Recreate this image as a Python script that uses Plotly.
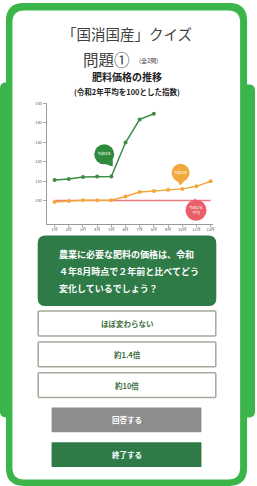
import plotly.graph_objects as go

# ---------------- data ----------------
MONTHS = ["1月", "2月", "3月", "4月", "5月", "6月", "7月", "8月", "9月", "10月", "11月", "12月"]
R4_PRICE = [110.6, 111.1, 112.1, 112.4, 112.4, 129.9, 141.8, 144.7]           # 令和4年 (green)
R3_PRICE = [99.3, 99.7, 100.2, 100.2, 100.2, 102.1, 104.4, 104.9, 105.5, 106.0, 107.3, 109.9]  # 令和3年 (orange)
R2_AVG = [100, 100, 100, 100, 100, 100, 100, 100, 100, 100, 100, 100]       # 令和2年平均
Y_TICKS = [100, 110, 120, 130, 140, 150]

ANSWERS = ["ほぼ変わらない", "約1.4倍", "約10倍"]
QUESTION = ["農業に必要な肥料の価格は、令和", "４年8月時点で２年前と比べてどう", "変化しているでしょう？"]

W, H = 257, 486
FONT = "Noto Sans CJK JP"
GREEN = "#3bb54a"
DARK_GREEN = "#2f7b47"


def X(px):
    return px / W


def Y(py):
    return 1 - py / H


def rrect(x0, y0, x1, y1, r):
    a, b, c, d = X(x0), Y(y0), X(x1), Y(y1)
    rx, ry = r / W, r / H
    return (f"M{a + rx},{b} L{c - rx},{b} Q{c},{b} {c},{b - ry} "
            f"L{c},{d + ry} Q{c},{d} {c - rx},{d} L{a + rx},{d} "
            f"Q{a},{d} {a},{d + ry} L{a},{b - ry} Q{a},{b} {a + rx},{b} Z")


shapes = []


def add_rr(x0, y0, x1, y1, r, fill, line=None, lw=0):
    shapes.append(dict(type="path", path=rrect(x0, y0, x1, y1, r), xref="paper", yref="paper",
                       fillcolor=fill, line=dict(color=line or fill, width=lw), layer="below"))


# frame
add_rr(0, 80, 16, 417, 6, GREEN)
add_rr(240, 82, 257, 417, 6, GREEN)
add_rr(6, 0, 249, 486, 18, GREEN)
add_rr(12.5, 7.5, 242, 479.5, 12, "white")
# question box
add_rr(38, 234, 218, 305, 8, DARK_GREEN)
# answer boxes
ans_y = [(310, 335), (341, 366), (372, 397)]
for (a, b) in ans_y:
    add_rr(38.5, a, 217.5, b, 1, "white", "#a3ab9c", 1.5)
# buttons
add_rr(52, 407, 203, 432, 0.5, "#8d8d8d")
add_rr(52, 442, 203, 467, 0.5, DARK_GREEN)

ann = []


def text(px, py, s, size, color="#333", anchor="center", bold=False):
    ann.append(dict(x=X(px), y=Y(py), xref="paper", yref="paper", text=f"<b>{s}</b>" if bold else s,
                    showarrow=False, xanchor=anchor, yanchor="middle",
                    font=dict(family=FONT, size=size, color=color)))


text(128, 31, "「国消国産」クイズ", 14.5, "#404040")
text(107, 56, "問題①", 15.5, "#404040")
text(150, 57.5, "(全2問)", 6, "#404040")
text(128, 74, "肥料価格の推移", 10, "#222", bold=True)
text(128, 89, "(令和2年平均を100とした指数)", 7.5, "#222", bold=True)
for i, line in enumerate(QUESTION):
    text(57, 253 + 17 * i, line, 9, "white", "left", bold=True)
for s, (a, b) in zip(ANSWERS, ans_y):
    text(128, (a + b) / 2, s, 7.5, "#3e6e3e", bold=True)
text(128, 419.5, "回答する", 7.5, "white", bold=True)
text(128, 454.5, "終了する", 7.5, "white", bold=True)

fig = go.Figure()

# series
fig.add_trace(go.Scatter(x=list(range(1, len(R2_AVG) + 1)), y=R2_AVG, mode="lines",
                         line=dict(color="#ee7a80", width=1.6), hoverinfo="skip"))
fig.add_trace(go.Scatter(x=list(range(1, len(R3_PRICE) + 1)), y=R3_PRICE, mode="lines+markers",
                         line=dict(color="#f2a93b", width=1.5), marker=dict(size=4, color="#f2a93b"),
                         hoverinfo="skip"))
fig.add_trace(go.Scatter(x=list(range(1, len(R4_PRICE) + 1)), y=R4_PRICE, mode="lines+markers",
                         line=dict(color="#3d8c45", width=1.5), marker=dict(size=4, color="#3d8c45"),
                         hoverinfo="skip"))

# callouts (bubble + tail + label)
callouts = [
    (4.5, 123.8, 20, "#2f8a3e", "令和4年", (4.95, 119.0), "triangle-down", -35),
    (9.88, 114.3, 18, "#f2a93b", "令和3年", (9.88, 109.6), "triangle-down", 0),
    (10.97, 95.0, 21, "#e95e68", "令和2年<br>平均", (10.9, 99.3), "triangle-up", 0),
]
for cx, cy, sz, col, lab, (tx, ty), sym, ang in callouts:
    fig.add_trace(go.Scatter(x=[tx], y=[ty], mode="markers", hoverinfo="skip",
                             marker=dict(symbol=sym, size=7, color=col, angle=ang)))
    fig.add_trace(go.Scatter(x=[cx], y=[cy], mode="markers+text", text=[lab], textposition="middle center",
                             textfont=dict(family=FONT, size=3.8, color="white"), hoverinfo="skip",
                             marker=dict(size=sz, color=col)))

fig.update_layout(
    width=W, height=H, margin=dict(l=0, r=0, t=0, b=0),
    paper_bgcolor="white", plot_bgcolor="rgba(0,0,0,0)",
    showlegend=False, shapes=shapes, annotations=ann,
    xaxis=dict(domain=[X(47), X(215)], range=[0.44, 12.19], tickvals=list(range(1, 13)), ticktext=MONTHS,
               showgrid=False, zeroline=False, showline=True, linecolor="#9a9a9a", linewidth=1,
               ticks="outside", ticklen=2, tickcolor="#aaa",
               tickfont=dict(family=FONT, size=4, color="#555")),
    yaxis=dict(domain=[Y(222), Y(100.7)], range=[88.1, 150.2], tickvals=Y_TICKS,
               showgrid=False, zeroline=False, showline=True, linecolor="#9a9a9a", linewidth=1,
               ticks="outside", ticklen=3, tickcolor="#aaa",
               tickfont=dict(family=FONT, size=4, color="#555")),
)

fig.write_html("out.html", config={"displayModeBar": False},
               post_script="document.body.style.margin='0';document.body.style.overflow='hidden';")
